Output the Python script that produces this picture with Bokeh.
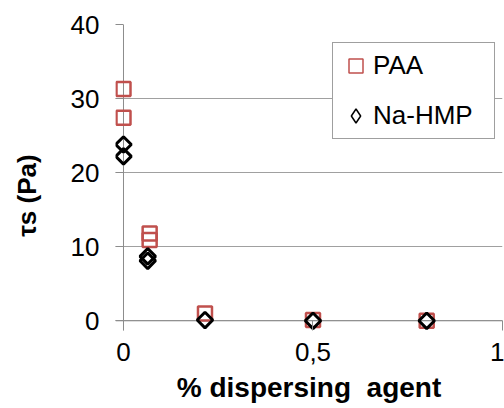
import math
from bokeh.plotting import figure
from bokeh.models import (FixedTicker, Legend, LegendItem, Range1d, Span,
                          LinearAxis)
from bokeh.embed import file_html
from bokeh.resources import INLINE

# ---- data ----
paa_x = [0.0, 0.0, 0.069, 0.069, 0.215, 0.5, 0.8]
paa_y = [31.3, 27.4, 11.8, 10.9, 1.0, 0.1, 0.0]
hmp_x = [0.0, 0.0, 0.064, 0.064, 0.215, 0.5, 0.8]
hmp_y = [23.8, 22.2, 8.7, 8.1, 0.1, 0.0, 0.0]

x_ticks = [0, 0.5, 1]
x_tick_labels = ["0", "0,5", "1"]
y_ticks = [0, 10, 20, 30, 40]

FONT = "Liberation Sans"
AXIS_COL = "#8c8c8c"
GRID_COL = "#a0a0a0"
PAA_COL = "#C0504D"
NAN = float("nan")
NBSP = "\u00a0"

p = figure(width=504, height=408, output_backend="svg", toolbar_location=None,
           x_range=Range1d(-0.0211, 1.0), y_range=Range1d(-1.31, 40.0),
           min_border_left=115, min_border_right=2, min_border_top=24,
           min_border_bottom=78)
p.outline_line_color = None
p.background_fill_color = "white"
p.border_fill_color = "white"

# axes: ticks drawn inward from the frame edge so they meet the zero lines
p.xaxis.ticker = FixedTicker(ticks=x_ticks)
p.xaxis.major_label_overrides = {t: s for t, s in zip(x_ticks, x_tick_labels)}
p.yaxis.ticker = FixedTicker(ticks=y_ticks)
for ax in (p.xaxis, p.yaxis):
    ax.axis_line_color = None
    ax.major_tick_line_color = AXIS_COL
    ax.major_tick_out = 0
    ax.minor_tick_line_color = None
    ax.major_label_text_font = FONT
    ax.major_label_text_font_size = "26px"
    ax.major_label_text_color = "#000000"
p.yaxis.major_tick_in = 8
p.xaxis.major_tick_in = 10
p.yaxis.major_label_standoff = 16
p.xaxis.major_label_standoff = 12

p.xaxis.axis_label = "% dispersing " + NBSP + "agent"
p.xaxis.axis_label_text_font = FONT
p.xaxis.axis_label_text_font_size = "28px"
p.xaxis.axis_label_text_font_style = "bold"
p.xaxis.axis_label_text_color = "#000000"
p.xaxis.axis_label_standoff = 8

# y title on its own tick-less axis; trailing no-break spaces move it lower
ylab_axis = LinearAxis(ticker=FixedTicker(ticks=[]),
                       axis_line_color=None, major_tick_line_color=None,
                       minor_tick_line_color=None,
                       axis_label="τs (Pa)" + NBSP * 5,
                       axis_label_text_font=FONT,
                       axis_label_text_font_size="26px",
                       axis_label_text_font_style="bold",
                       axis_label_text_color="#000000",
                       axis_label_standoff=26)
p.add_layout(ylab_axis, "left")

p.xgrid.grid_line_color = None
p.ygrid.grid_line_color = GRID_COL
p.ygrid.grid_line_width = 1
p.ygrid.ticker = FixedTicker(ticks=y_ticks)

# zero lines acting as the axis lines
p.add_layout(Span(location=0, dimension="height", line_color=AXIS_COL,
                  line_width=1, level="underlay"))
p.add_layout(Span(location=0, dimension="width", line_color=AXIS_COL,
                  line_width=1, level="underlay"))

# data
r_paa = p.scatter(paa_x, paa_y, marker="square", size=14, fill_color=None,
                  line_color=PAA_COL, line_width=2.5)
r_hmp = p.scatter(hmp_x, hmp_y, marker="square", angle=math.pi / 4, size=11,
                  fill_color=None, line_color="#000000", line_width=3)

# legend-only glyph styles (thin outlines as in the reference legend)
lg_paa = p.scatter([NAN], [NAN], marker="square", fill_color=None,
                   line_color=PAA_COL, line_width=1.5)
lg_hmp = p.scatter([NAN], [NAN], marker="diamond", fill_color=None,
                   line_color="#000000", line_width=1.5)

legend = Legend(items=[LegendItem(label="PAA", renderers=[lg_paa]),
                       LegendItem(label="Na-HMP", renderers=[lg_hmp])],
                location=(217, 191), orientation="vertical",
                glyph_width=35, glyph_height=35, padding=5, spacing=15,
                label_standoff=0, label_width=116, margin=0,
                label_text_font=FONT, label_text_font_size="26px",
                label_text_color="#000000",
                border_line_color="#404040", border_line_width=1,
                background_fill_color="white", background_fill_alpha=1.0)
p.add_layout(legend)

open("out.html", "w").write(file_html(p, INLINE))
